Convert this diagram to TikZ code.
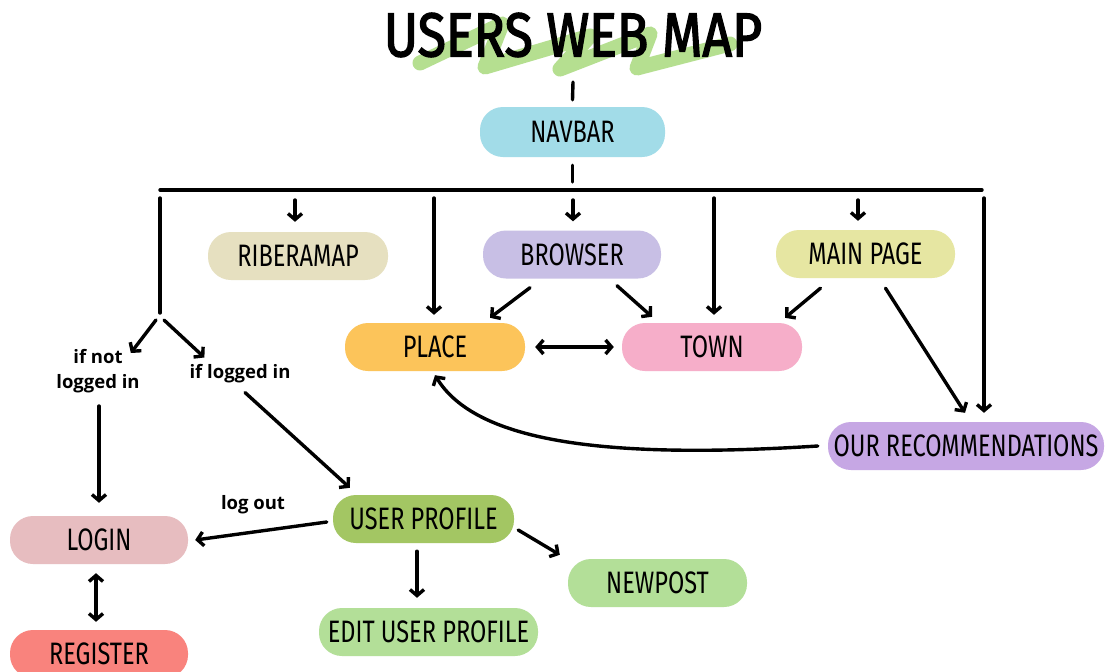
\documentclass[tikz,border=0pt]{standalone}
\usepackage{fontspec}
\usetikzlibrary{arrows.meta}
\newfontfamily\boxfont[FakeStretch=0.76]{Fira Sans}
\newfontfamily\titlefont[FakeStretch=0.835, FakeBold=2.2]{Fira Sans}
\newfontfamily\notefont{Open Sans}
\definecolor{cNav}{HTML}{A2DCE8}
\definecolor{cRib}{HTML}{E6E0C0}
\definecolor{cBrow}{HTML}{C8BFE5}
\definecolor{cMain}{HTML}{E6E6A2}
\definecolor{cPlace}{HTML}{FCC45A}
\definecolor{cTown}{HTML}{F6AEC9}
\definecolor{cRec}{HTML}{C6A7E4}
\definecolor{cLogin}{HTML}{E7BDC0}
\definecolor{cProf}{HTML}{A3C663}
\definecolor{cLight}{HTML}{B3DF98}
\definecolor{cReg}{HTML}{F9837D}
\definecolor{cScrib}{HTML}{B5DF90}
\begin{document}
\begin{tikzpicture}[x=1pt,y=-1pt,
  pill/.style={rectangle, rounded corners=23pt, minimum height=48pt, inner sep=0pt,
    font=\boxfont\fontsize{31}{31}\selectfont, text=black},
  line/.style={draw=black, line width=3.4pt, line cap=round, line join=round},
  arr/.style={line, -{Straight Barb[length=6pt,width=14pt]}},
  darr/.style={line, {Straight Barb[length=6pt,width=14pt]}-{Straight Barb[length=6pt,width=14pt]}},
  note/.style={font=\notefont\bfseries\fontsize{18.5}{25}\selectfont, align=center, inner sep=1pt}]
\clip (0,0) rectangle (1106,672);
\fill[white] (0,0) rectangle (1106,672);

% title with green scribble behind it
\draw[cScrib, line width=15pt, line cap=round, line join=round]
  (420,63) -- (502,24) -- (485,67) -- (590,36) -- (560,69) -- (650,34) -- (637,68) -- (730,44);
\node[font=\titlefont\fontsize{62}{62}\selectfont] (title) at (573,35) {USERS WEB MAP};

% nodes
\node[pill, fill=cNav,   minimum width=185pt, minimum height=50pt] (nav)   at (572.5,132) {NAVBAR};
\node[pill, fill=cRib,   minimum width=180pt] (rib)   at (298,256)   {RIBERAMAP};
\node[pill, fill=cBrow,  minimum width=178pt] (brow)  at (572,254.5) {BROWSER};
\node[pill, fill=cMain,  minimum width=179pt] (main)  at (865.5,254) {MAIN PAGE};
\node[pill, fill=cPlace, minimum width=180pt] (place) at (435,347)   {PLACE};
\node[pill, fill=cTown,  minimum width=180pt] (town)  at (712,347)   {TOWN};
\node[pill, fill=cRec,   minimum width=276pt] (rec)   at (966,446)   {OUR RECOMMENDATIONS};
\node[pill, fill=cLogin, minimum width=178pt] (login) at (99,540)    {LOGIN};
\node[pill, fill=cProf,  minimum width=181pt] (uprof) at (423.5,519) {USER PROFILE};
\node[pill, fill=cLight, minimum width=179pt] (newp)  at (657.5,583) {NEWPOST};
\node[pill, fill=cLight, minimum width=219pt] (edit)  at (428.5,632) {EDIT USER PROFILE};
\node[pill, fill=cReg,   minimum width=178pt] (reg)   at (99,654)    {REGISTER};

\node[note] (ifnot) at (98,371) {if not\\logged in};
\node[note] (iflog) at (240,374) {if logged in};
\node[note] (logout) at (253,505) {log out};

% navbar and the bus line
\coordinate (navtop) at (573,82);
\coordinate (bL) at (160,190);
\coordinate (bR) at (982,190);
\draw[line] (navtop) -- ([yshift=7pt]nav.north);
\draw[line] ([yshift=-8pt]nav.south) -- ([yshift=8pt]nav.south |- bL);
\draw[line] (bL) -- (bR);

% drops from the bus
\coordinate (bRib) at (295,190);
\coordinate (bPlace) at (434,190);
\coordinate (bBrow) at (573,190);
\coordinate (bTown) at (714,190);
\coordinate (bMain) at (858,190);
\coordinate (bRec) at (984,190);
\draw[arr, shorten >=10pt] ([yshift=-10pt]bRib) -- (bRib |- rib.north);
\draw[arr, shorten >=8pt] ([yshift=-8pt]bPlace) -- (bPlace |- place.north);
\draw[arr, shorten >=9pt] ([yshift=-10pt]bBrow) -- (bBrow |- brow.north);
\draw[arr, shorten >=8pt] ([yshift=-8pt]bTown) -- (bTown |- town.north);
\draw[arr, shorten >=9pt] ([yshift=-10pt]bMain) -- (bMain |- main.north);
\draw[arr, shorten >=9pt] ([yshift=-8pt]bRec) -- (bRec |- rec.north);

% login branch
\coordinate (split) at (160,317);
\draw[line] ([yshift=-8pt]bL) -- ([yshift=4pt]split);
\draw[arr] ([shift={(-4pt,-3pt)}]split) -- ([shift={(-10pt,-5pt)}]ifnot.north east);
\draw[arr] ([shift={(4pt,-3pt)}]split) -- ([shift={(16pt,6pt)}]iflog.north west);
\draw[arr, shorten <=12pt, shorten >=13pt] (ifnot.south -| login) -- (login.north);
\draw[arr] ([shift={(5pt,-8pt)}]iflog.south) -- ([shift={(17pt,7pt)}]uprof.north west);

% browser and main page
\draw[arr] ([shift={(-42pt,-9pt)}]brow.south) -- ([shift={(55pt,5pt)}]place.north);
\draw[arr] ([shift={(45pt,-7pt)}]brow.south) -- ([shift={(-60pt,6pt)}]town.north);
\draw[darr] ([xshift=10pt]place.east) -- ([xshift=-8pt]town.west);
\draw[arr] ([shift={(-45pt,-10pt)}]main.south) -- ([shift={(73pt,5pt)}]town.north);
\draw[arr] ([shift={(20pt,-10pt)}]main.south) -- ([shift={(-1pt,9pt)}]rec.north);
\draw[arr] ([xshift=-10pt]rec.west) .. controls +(-220,14) and +(40,65) .. ([yshift=-4pt]place.south);

% user profile
\draw[arr] ([shift={(-6pt,-3pt)}]uprof.west) -- ([xshift=7pt]login.east);
\draw[arr] ([shift={(4pt,-11pt)}]uprof.east) -- ([shift={(-8pt,4pt)}]newp.north west);
\draw[arr] ([shift={(-6.5pt,-8pt)}]uprof.south) -- ([shift={(-11.5pt,10pt)}]edit.north);
\draw[darr] ([shift={(-3pt,-9pt)}]login.south) -- ([shift={(-3pt,8pt)}]reg.north);
\end{tikzpicture}
\end{document}
